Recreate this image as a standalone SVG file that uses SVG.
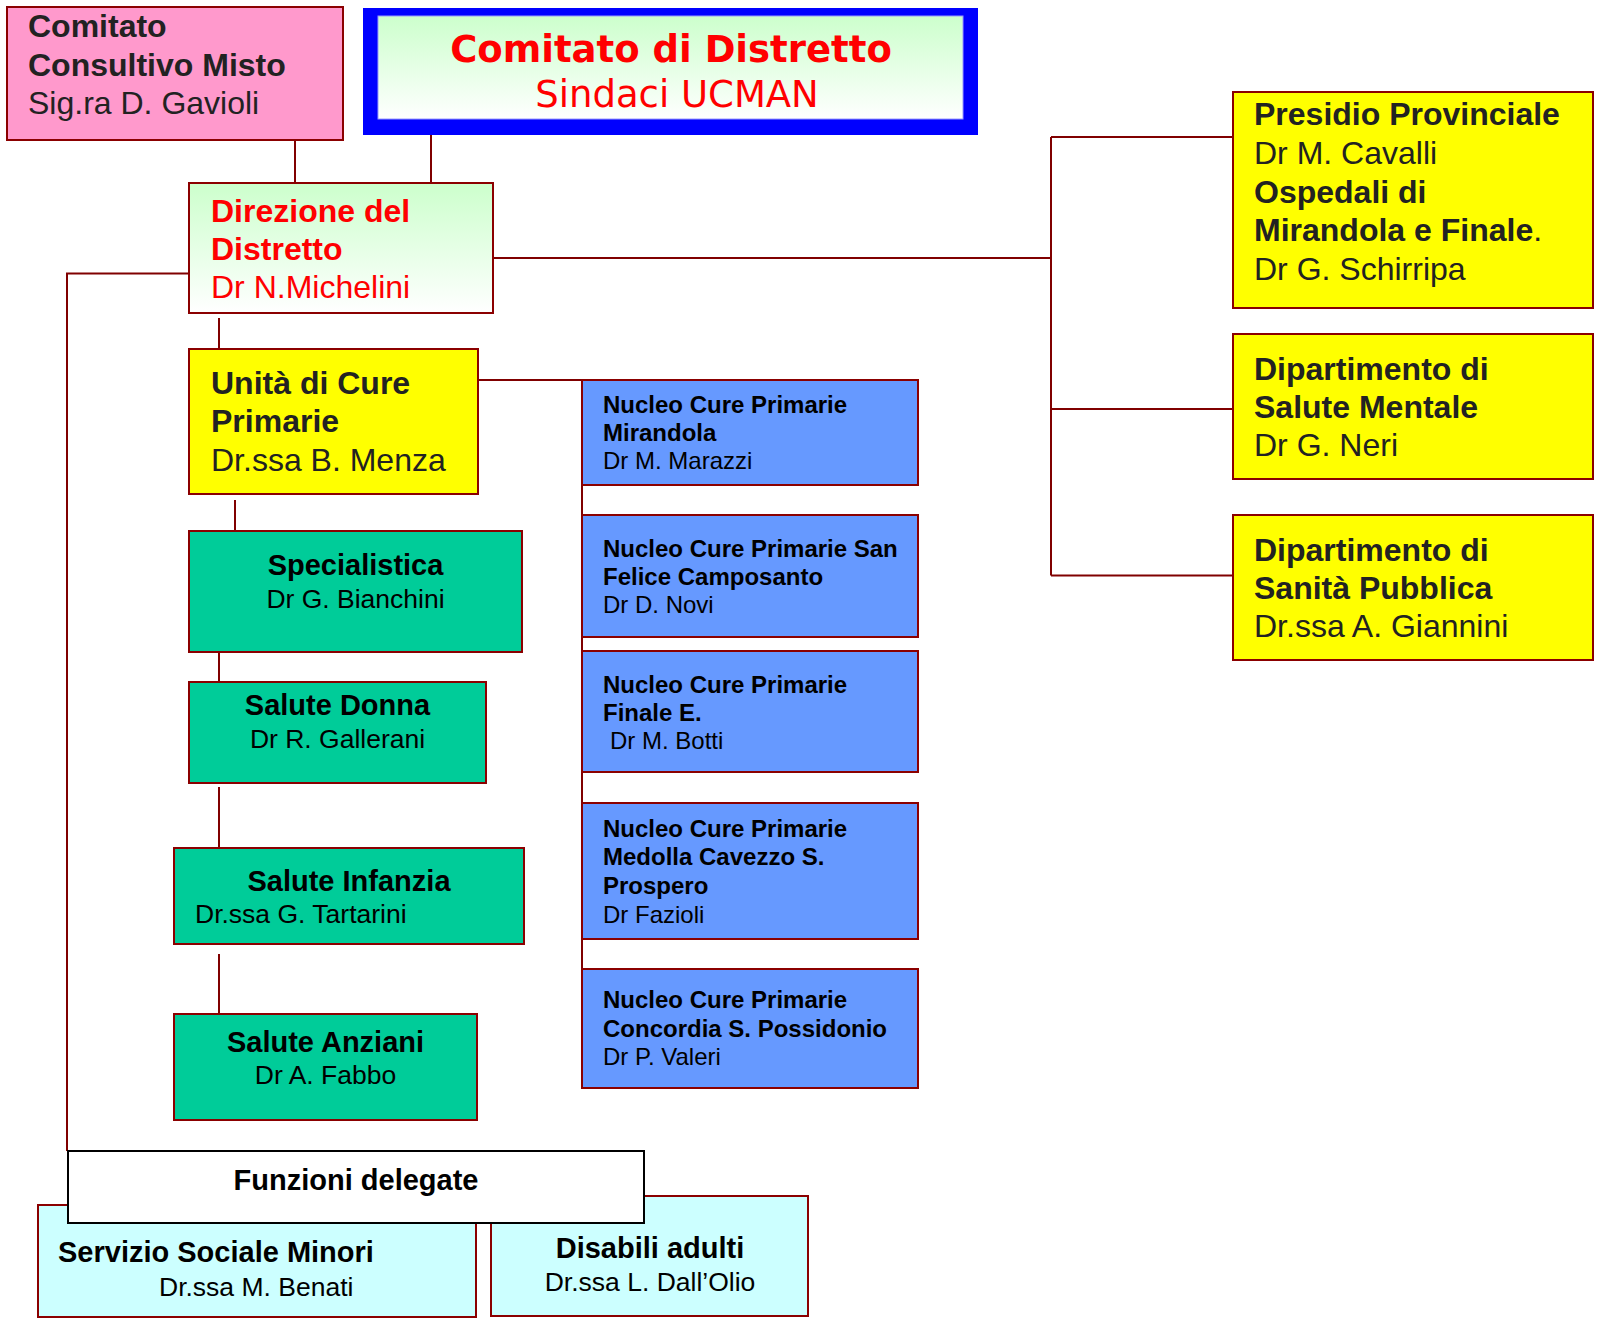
<svg xmlns="http://www.w3.org/2000/svg" width="1600" height="1323" viewBox="0 0 1600 1323">
<defs>
<linearGradient id="gGreen" x1="0" y1="0" x2="0" y2="1">
<stop offset="0" stop-color="#CCFFCC"/>
<stop offset="1" stop-color="#FFFFFF"/>
</linearGradient>
</defs>
<style>
.box{stroke:#8B0000;stroke-width:2}
.pink{fill:#FF99CC}
.yel{fill:#FFFF00}
.grn{fill:#00CC99}
.blu{fill:#6699FF}
.cyan{fill:#CCFFFF}
.t{font-family:"Liberation Sans",Arial,sans-serif}
.b{font-weight:bold}
.dk{fill:#222222}
.bk{fill:#000000}
.red{fill:#FF0000}
.f32{font-size:32px}
.f24{font-size:24px}
.f29{font-size:29px}
.f26{font-size:26.5px}
.c{text-anchor:middle}
.v{font-family:"DejaVu Sans",Verdana,sans-serif;font-size:37px}
.conn path{fill:none;stroke:#800000;stroke-width:2}
</style>
<g class="conn" id="connectors">
<path d="M295,137 V183"/>
<path d="M431,135 V183"/>
<path d="M189,273.5 H67 V1151"/>
<path d="M493,258 H1051"/>
<path d="M1051,137 V575.5"/>
<path d="M1051,137 H1233"/>
<path d="M1051,409 H1233"/>
<path d="M1051,575.5 H1233"/>
<path d="M219,318 V349"/>
<path d="M478,380 H582"/>
<path d="M582,380 V969"/>
<path d="M235,500 V531"/>
<path d="M219,652 V682"/>
<path d="M219,787 V854"/>
<path d="M219,954 V1014"/>
</g>
<g id="consultivo">
<rect class="box pink" x="7" y="7" width="336" height="133"/>
<text class="t b f32 dk" x="28" y="37">Comitato</text>
<text class="t b f32 dk" x="28" y="76">Consultivo Misto</text>
<text class="t f32 dk" x="28" y="114">Sig.ra D. Gavioli</text>
</g>
<g id="comitato">
<rect x="363" y="8" width="615" height="127" fill="#0000FF"/>
<rect x="378" y="16" width="585" height="103" fill="url(#gGreen)" stroke="#9999FF" stroke-width="1"/>
<text class="v b red c" x="671" y="62">Comitato di Distretto</text>
<text class="v red c" x="677" y="106.5">Sindaci UCMAN</text>
</g>
<g id="direzione">
<rect class="box" x="189" y="183" width="304" height="130" fill="url(#gGreen)"/>
<text class="t b f32 red" x="211" y="222">Direzione del</text>
<text class="t b f32 red" x="211" y="260">Distretto</text>
<text class="t f32 red" x="211" y="298">Dr N.Michelini</text>
</g>
<g id="presidio">
<rect class="box yel" x="1233" y="92" width="360" height="216"/>
<text class="t b f32 dk" x="1254" y="125">Presidio Provinciale</text>
<text class="t f32 dk" x="1254" y="164">Dr M. Cavalli</text>
<text class="t b f32 dk" x="1254" y="202.5">Ospedali di</text>
<text class="t f32 dk" x="1254" y="241"><tspan class="b">Mirandola e Finale</tspan>.</text>
<text class="t f32 dk" x="1254" y="279.5">Dr G. Schirripa</text>
</g>
<g id="salute-mentale">
<rect class="box yel" x="1233" y="334" width="360" height="145"/>
<text class="t b f32 dk" x="1254" y="379.5">Dipartimento di</text>
<text class="t b f32 dk" x="1254" y="418">Salute Mentale</text>
<text class="t f32 dk" x="1254" y="456">Dr G. Neri</text>
</g>
<g id="sanita-pubblica">
<rect class="box yel" x="1233" y="515" width="360" height="145"/>
<text class="t b f32 dk" x="1254" y="561">Dipartimento di</text>
<text class="t b f32 dk" x="1254" y="599">Sanità Pubblica</text>
<text class="t f32 dk" x="1254" y="637">Dr.ssa A. Giannini</text>
</g>
<g id="ucp">
<rect class="box yel" x="189" y="349" width="289" height="145"/>
<text class="t b f32 dk" x="211" y="394">Unità di Cure</text>
<text class="t b f32 dk" x="211" y="432">Primarie</text>
<text class="t f32 dk" x="211" y="470.5">Dr.ssa B. Menza</text>
</g>
<g id="specialistica">
<rect class="box grn" x="189" y="531" width="333" height="121"/>
<text class="t b f29 bk c" x="355.5" y="575">Specialistica</text>
<text class="t f26 bk c" x="355.5" y="608">Dr G. Bianchini</text>
</g>
<g id="salute-donna">
<rect class="box grn" x="189" y="682" width="297" height="101"/>
<text class="t b f29 bk c" x="337.5" y="715">Salute Donna</text>
<text class="t f26 bk c" x="337.5" y="748">Dr R. Gallerani</text>
</g>
<g id="salute-infanzia">
<rect class="box grn" x="174" y="848" width="350" height="96"/>
<text class="t b f29 bk c" x="349" y="891">Salute Infanzia</text>
<text class="t f26 bk" x="195" y="923">Dr.ssa G. Tartarini</text>
</g>
<g id="salute-anziani">
<rect class="box grn" x="174" y="1014" width="303" height="106"/>
<text class="t b f29 bk c" x="325.5" y="1052">Salute Anziani</text>
<text class="t f26 bk c" x="325.5" y="1084">Dr A. Fabbo</text>
</g>
<g id="ncp-mirandola">
<rect class="box blu" x="582" y="380" width="336" height="105"/>
<text class="t b f24 bk" x="603" y="412.7">Nucleo Cure Primarie</text>
<text class="t b f24 bk" x="603" y="441">Mirandola</text>
<text class="t f24 bk" x="603" y="469.3">Dr M. Marazzi</text>
</g>
<g id="ncp-san-felice">
<rect class="box blu" x="582" y="515" width="336" height="122"/>
<text class="t b f24 bk" x="603" y="556.7">Nucleo Cure Primarie San</text>
<text class="t b f24 bk" x="603" y="585">Felice Camposanto</text>
<text class="t f24 bk" x="603" y="613">Dr D. Novi</text>
</g>
<g id="ncp-finale">
<rect class="box blu" x="582" y="651" width="336" height="121"/>
<text class="t b f24 bk" x="603" y="692.7">Nucleo Cure Primarie</text>
<text class="t b f24 bk" x="603" y="720.5">Finale E.</text>
<text class="t f24 bk" x="610" y="749">Dr M. Botti</text>
</g>
<g id="ncp-medolla">
<rect class="box blu" x="582" y="803" width="336" height="136"/>
<text class="t b f24 bk" x="603" y="836.7">Nucleo Cure Primarie</text>
<text class="t b f24 bk" x="603" y="865.3">Medolla Cavezzo S.</text>
<text class="t b f24 bk" x="603" y="894">Prospero</text>
<text class="t f24 bk" x="603" y="922.5">Dr Fazioli</text>
</g>
<g id="ncp-concordia">
<rect class="box blu" x="582" y="969" width="336" height="119"/>
<text class="t b f24 bk" x="603" y="1008">Nucleo Cure Primarie</text>
<text class="t b f24 bk" x="603" y="1036.7">Concordia S. Possidonio</text>
<text class="t f24 bk" x="603" y="1065">Dr P. Valeri</text>
</g>
<g id="servizio-sociale-minori">
<rect class="box cyan" x="38" y="1205" width="438" height="112"/>
<text class="t b f29 bk" x="58" y="1262">Servizio Sociale Minori</text>
<text class="t f26 bk" x="159" y="1296">Dr.ssa M. Benati</text>
</g>
<g id="disabili-adulti">
<rect class="box cyan" x="491" y="1196" width="317" height="120"/>
<text class="t b f29 bk c" x="650" y="1258">Disabili adulti</text>
<text class="t f26 bk c" x="650" y="1291">Dr.ssa L. Dall’Olio</text>
</g>
<g id="funzioni-delegate">
<rect x="68" y="1151" width="576" height="72" fill="#FFFFFF" stroke="#000000" stroke-width="2"/>
<text class="t b f29 bk c" x="356" y="1190">Funzioni delegate</text>
</g>
</svg>
